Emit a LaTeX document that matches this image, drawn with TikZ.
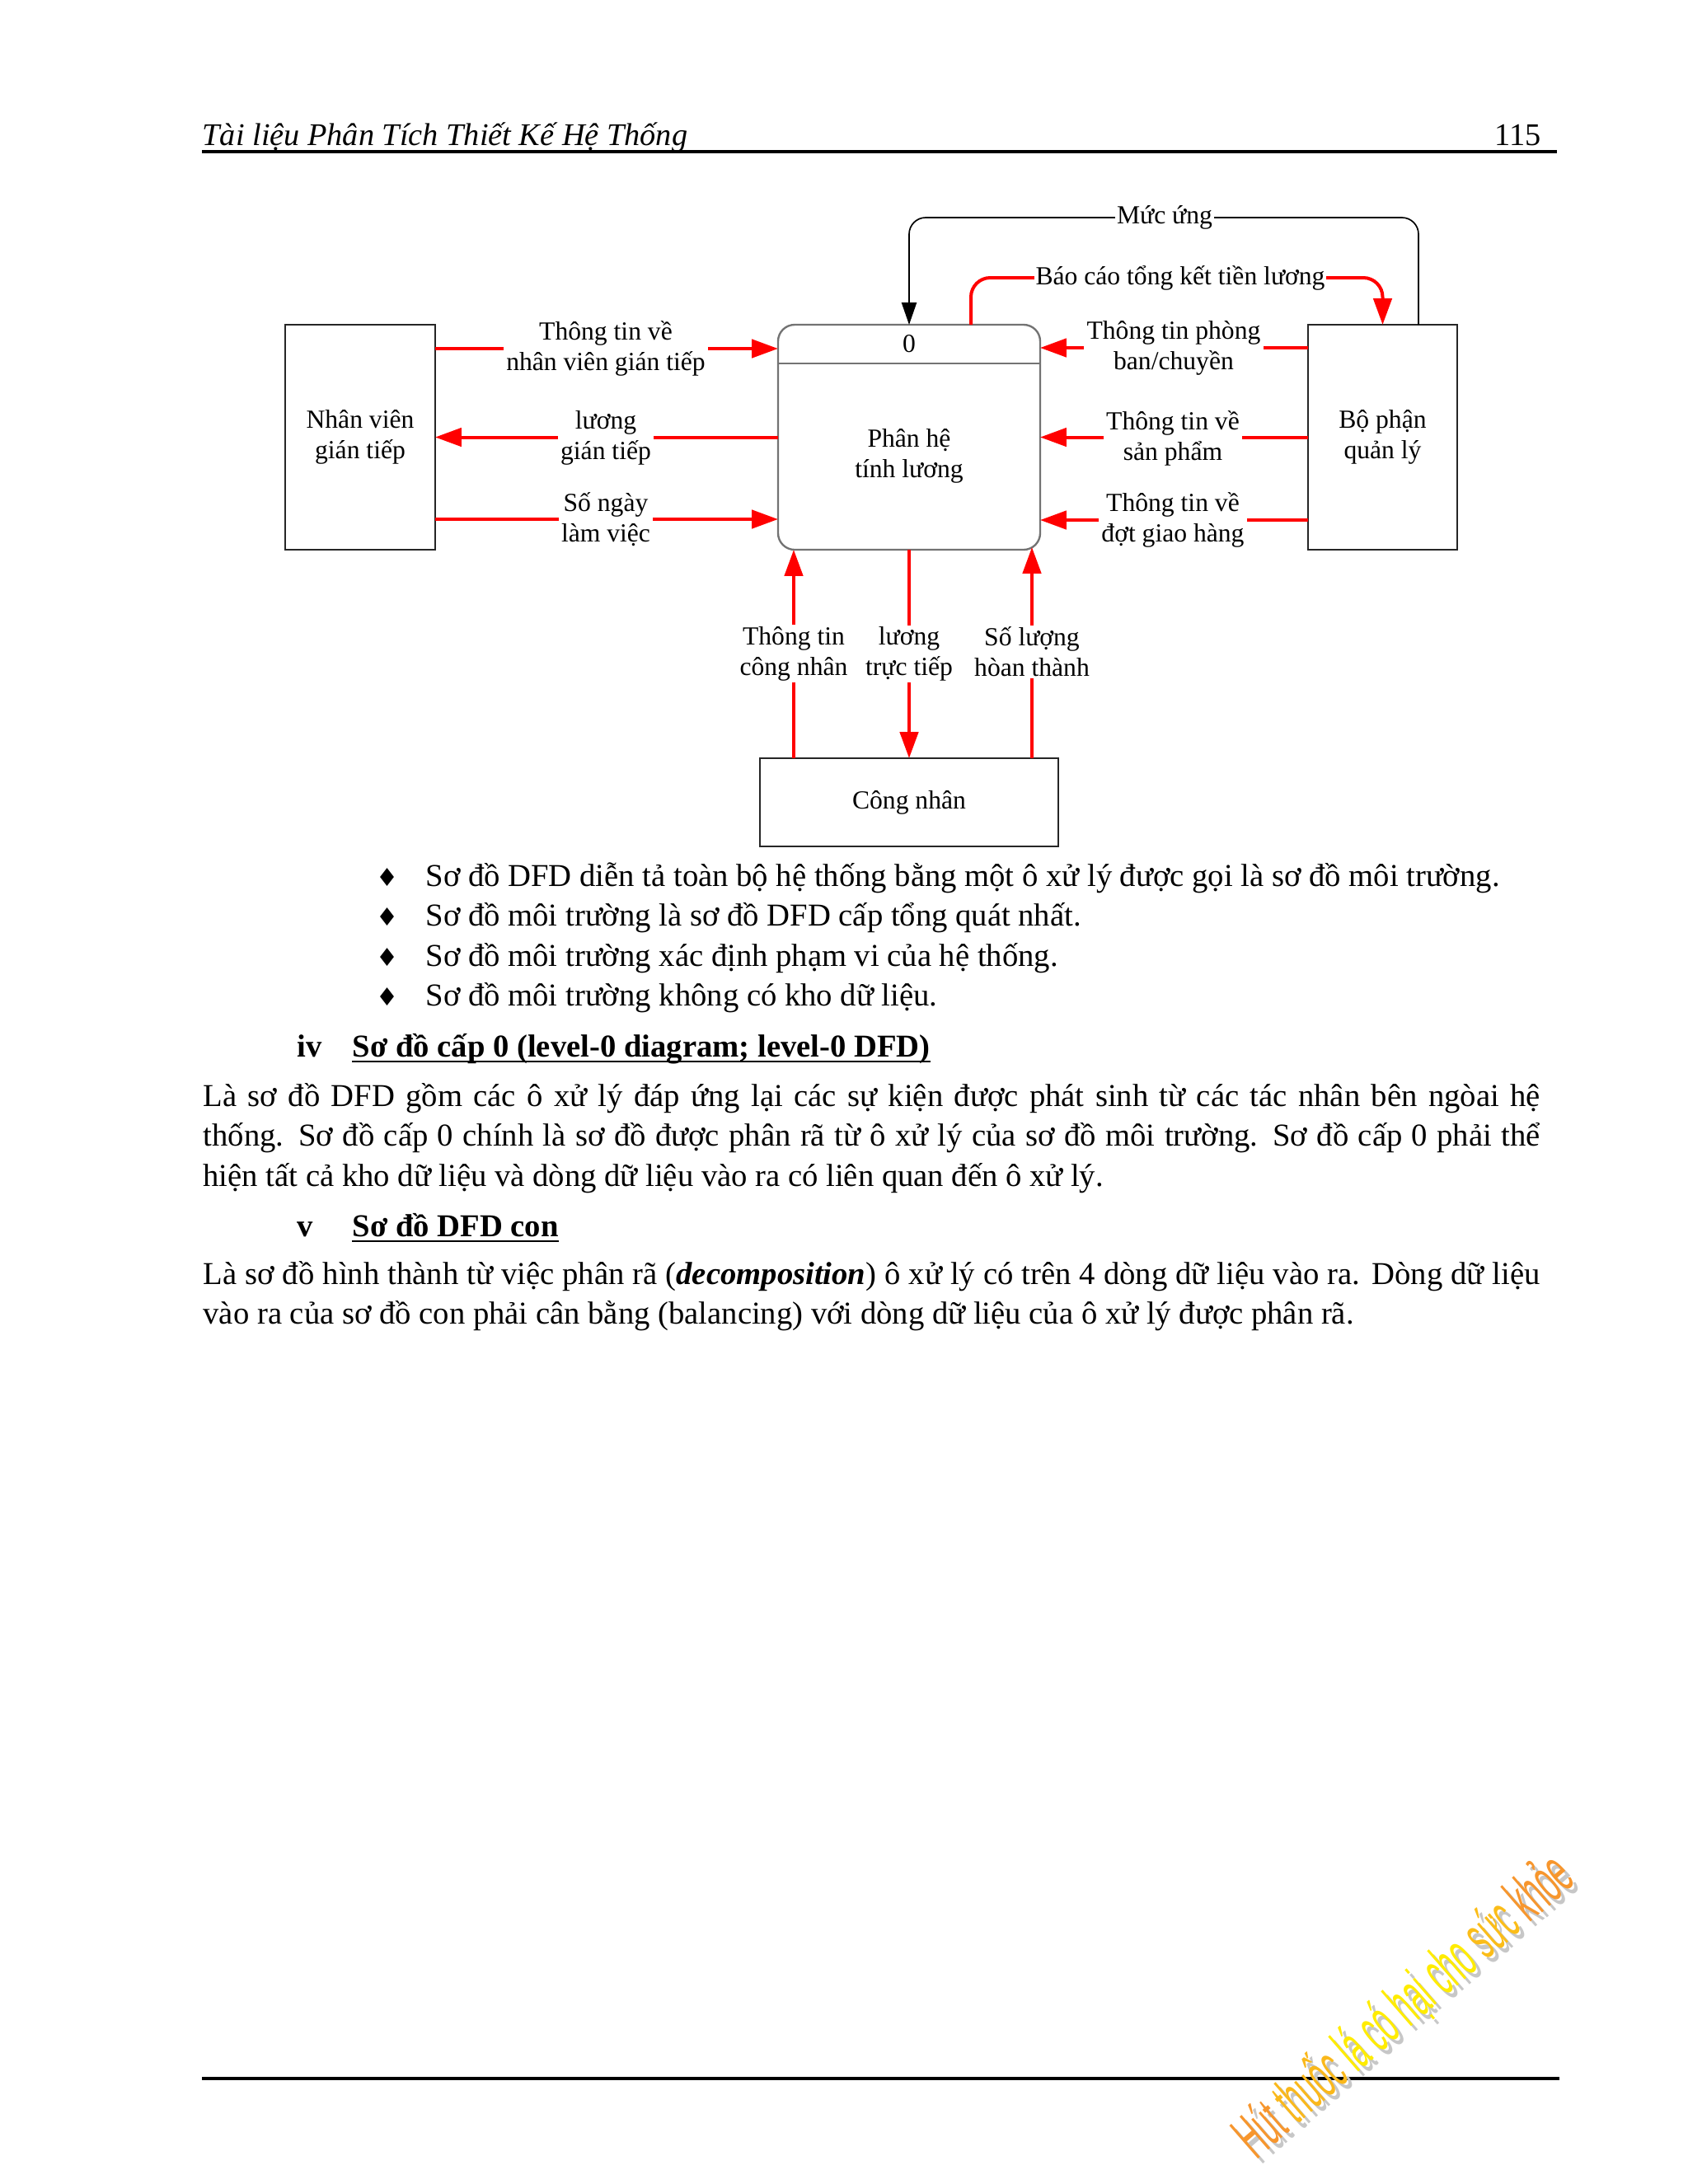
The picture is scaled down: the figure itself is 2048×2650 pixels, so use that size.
\documentclass[tikz,border=0pt]{standalone}
\usepackage{fontspec}
\setmainfont{Liberation Serif}
\newfontfamily\wmfam{Liberation Sans}
\newfontfamily\symfam{DejaVu Sans}
\usetikzlibrary{arrows.meta,calc}
\def\pxu{0.29883pt}
\newlength\bodyw
\setlength\bodyw{484.7pt}
\newcommand\dfdfont{\fontsize{9.45}{11.06}\selectfont}
\newcommand\bodyfont{\fontsize{11.55}{14.43}\selectfont}
\newcommand\jline[1]{\hbox to\bodyw{#1}}
\definecolor{wmor}{RGB}{247,150,45}
\definecolor{wmye}{RGB}{255,236,0}
\begin{document}
\begin{tikzpicture}[x=0.29883pt, y=-0.29883pt,
  ent/.style={draw=black!85, line width=0.7pt, inner sep=0pt, outer sep=0pt, align=center, font=\dfdfont},
  flow/.style={draw=red, line width=1.2pt, -{Triangle[length=9.5pt,width=6.6pt]}},
  ctrl/.style={draw=black, line width=0.5pt, -{Triangle[length=8pt,width=5.4pt]}},
  lbl/.style={fill=white, inner xsep=1pt, inner ysep=0.5pt, align=center, font=\dfdfont},
  txt/.style={anchor=base west, inner sep=0pt, font=\bodyfont, text height=9pt, text depth=3pt},
  dia/.style={anchor=base, inner sep=0pt, font=\symfam\fontsize{9}{10}\selectfont}]
\useasboundingbox[fill=white] (0,0) rectangle (2048,2650);

% header
\node[anchor=base west, inner sep=0pt, font=\fontsize{11.45}{14}\selectfont\itshape] (hdr) at (245,176) {Tài liệu Phân Tích Thiết Kế Hệ Thống};
\node[anchor=base east, inner sep=0pt, font=\fontsize{11.45}{14}\selectfont] (pg) at (1870,176) {115};
\coordinate (hl) at (245,184);
\coordinate (hr) at (1889,184);
\draw[line width=1pt] (hl) -- (hr);

% entities
\node[ent, minimum width=182*\pxu, minimum height=273*\pxu] (nv) at (437,530.5) {Nhân viên\\gián tiếp};
\node[ent, draw=black!55, rounded corners=6pt, minimum width=318*\pxu, minimum height=273*\pxu] (pr) at (1103,530.5) {};
\draw[draw=black!55, line width=0.7pt] ($(pr.north west)+(0,47)$) -- ($(pr.north east)+(0,47)$);
\node[font=\dfdfont, inner sep=0pt] (pid) at (1103,417) {0};
\node[font=\dfdfont, inner sep=0pt, align=center] (pname) at (1103,553) {Phân hệ\\tính lương};
\node[ent, minimum width=181*\pxu, minimum height=273*\pxu] (bp) at (1677.5,530.5) {Bộ phận\\quản lý};
\node[ent, minimum width=362*\pxu, minimum height=107*\pxu] (cn) at (1103,973.5) {Công nhân};

% flows left
\draw[flow] ($(nv.north east)+(0,29)$) -- ($(pr.north west)+(0,29)$);
\draw[flow] (pr.west) -- (nv.east);
\draw[flow] ($(nv.south east)+(0,-37)$) -- ($(pr.south west)+(0,-37)$);
% flows right
\draw[flow] ($(bp.north west)+(0,28)$) -- ($(pr.north east)+(0,28)$);
\draw[flow] (bp.west) -- (pr.east);
\draw[flow] ($(bp.south west)+(0,-36)$) -- ($(pr.south east)+(0,-36)$);
% flows bottom
\draw[flow] ($(cn.north west)+(41,0)$) -- ($(pr.south west)+(19,0)$);
\draw[flow] (pr.south) -- (cn.north);
\draw[flow] ($(cn.north east)+(-32,0)$) -- ($(pr.south east)+(-10,-3)$);
% top flows
\draw[ctrl, rounded corners=6pt] ($(bp.north east)+(-47,0)$) |- ($(pr.north)+(0,-130)$) -- (pr.north);
\draw[flow, rounded corners=7pt] ($(pr.north)+(75,0)$) |- ($(bp.north)+(0,-57)$) -- (bp.north);

% labels
\node[lbl] (l1) at (735,423) {Thông tin về\\nhân viên gián tiếp};
\node[lbl] (l2) at (735,531) {lương\\gián tiếp};
\node[lbl] (l3) at (735,630) {Số ngày\\làm việc};
\node[lbl] (l4) at (1424,422) {Thông tin phòng\\ban/chuyền};
\node[lbl] (l5) at (1423,532) {Thông tin về\\sản phẩm};
\node[lbl] (l6) at (1423,631) {Thông tin về\\đợt giao hàng};
\node[lbl] (l7) at (963,793) {Thông tin\\công nhân};
\node[lbl] (l8) at (1103,793) {lương\\trực tiếp};
\node[lbl] (l9) at (1252,791) {Số lượng\\hòan thành};
\node[lbl, inner xsep=0.5pt] (l10) at (1413,264) {Mức ứng};
\node[lbl, inner xsep=0.5pt] (l11) at (1432,337) {Báo cáo tổng kết tiền lương};

% bullets
\node[dia] (d1) at (470,1075) {♦};
\node[txt] (b1) at (516,1075) {Sơ đồ DFD diễn tả toàn bộ hệ thống bằng một ô xử lý được gọi là sơ đồ môi trường.};
\node[dia] (d2) at (470,1123) {♦};
\node[txt] (b2) at (516,1123) {Sơ đồ môi trường là sơ đồ DFD cấp tổng quát nhất.};
\node[dia] (d3) at (470,1172) {♦};
\node[txt] (b3) at (516,1172) {Sơ đồ môi trường xác định phạm vi của hệ thống.};
\node[dia] (d4) at (470,1220) {♦};
\node[txt] (b4) at (516,1220) {Sơ đồ môi trường không có kho dữ liệu.};

% heading iv
\node[txt, font=\bodyfont\bfseries] (h4n) at (360,1282) {iv};
\node[txt, font=\bodyfont\bfseries] (h4) at (427,1282) {Sơ đồ cấp 0 (level-0 diagram; level-0 DFD)};
\draw[line width=0.8pt] ($(h4.base west)+(0,6)$) -- ($(h4.base east)+(0,6)$);
\node[txt] (p1a) at (246,1342) {\jline{Là sơ đồ DFD gồm các ô xử lý đáp ứng lại các sự kiện được phát sinh từ các tác nhân bên ngòai hệ}};
\node[txt] (p1b) at (246,1390.5) {\jline{thống. Sơ đồ cấp 0 chính là sơ đồ được phân rã từ ô xử lý của sơ đồ môi trường. Sơ đồ cấp 0 phải thể}};
\node[txt] (p1c) at (246,1439) {hiện tất cả kho dữ liệu và dòng dữ liệu vào ra có liên quan đến ô xử lý.};

% heading v
\node[txt, font=\bodyfont\bfseries] (h5n) at (360,1500) {v};
\node[txt, font=\bodyfont\bfseries] (h5) at (427,1500) {Sơ đồ DFD con};
\draw[line width=0.8pt] ($(h5.base west)+(0,6)$) -- ($(h5.base east)+(0,6)$);
\node[txt] (p2a) at (246,1558) {\jline{Là sơ đồ hình thành từ việc phân rã (\textbf{\textit{decomposition}}) ô xử lý có trên 4 dòng dữ liệu vào ra. Dòng dữ liệu}};
\node[txt] (p2b) at (246,1606.5) {vào ra của sơ đồ con phải cân bằng (balancing) với dòng dữ liệu của ô xử lý được phân rã.};

% footer
\coordinate (fl) at (245,2522);
\coordinate (fr) at (1892,2522);
\draw[line width=1pt] (fl) -- (fr);

% watermark
\node[rotate=41, anchor=base west, inner sep=0pt, font=\wmfam\fontsize{23}{25}\selectfont, text=black!22] (wms) at (1530,2628) {\scalebox{0.46}[1]{Hút thuốc lá có hại cho sức khỏe}};
\node[rotate=41, anchor=base west, inner sep=0pt, font=\wmfam\fontsize{23}{25}\selectfont] (wm) at (1524,2622) {\scalebox{0.46}[1]{\textcolor{wmor}{Hút} \textcolor{wmor!60!wmye}{thuốc} \textcolor{wmye}{lá có hại cho} \textcolor{wmye!45!wmor}{sức} \textcolor{wmor}{khỏe}}};
\end{tikzpicture}
\end{document}
